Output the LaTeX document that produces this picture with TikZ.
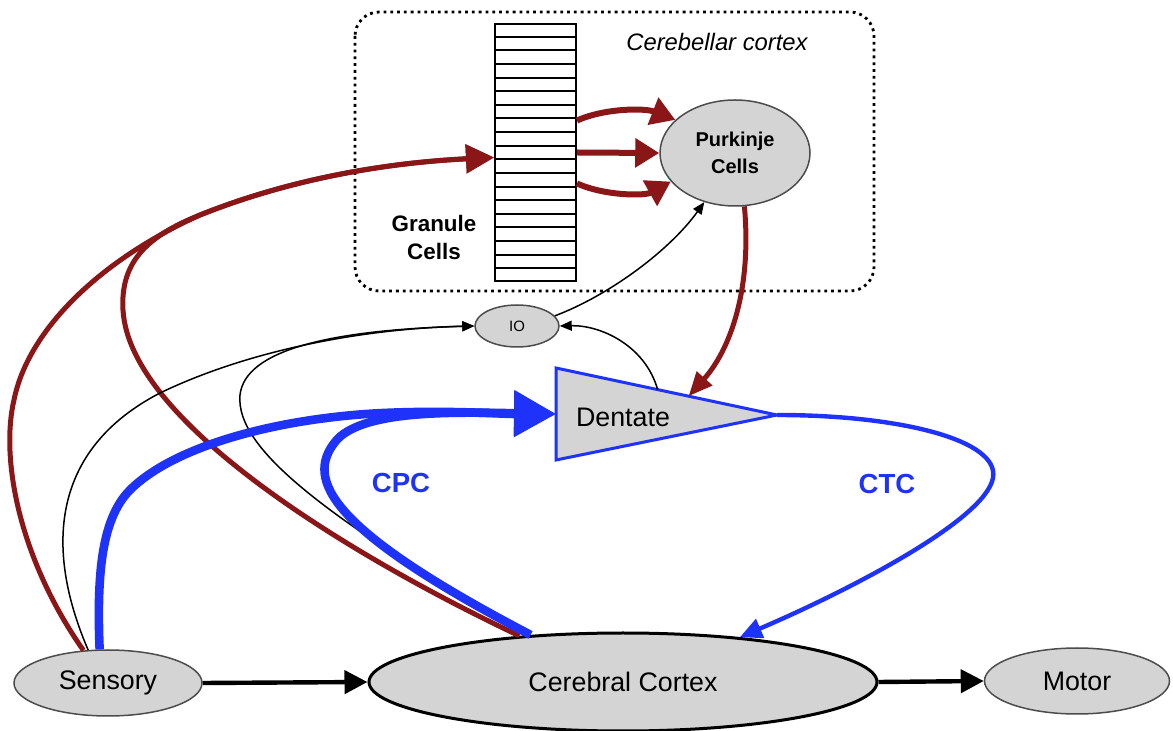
\documentclass[tikz,border=0pt]{standalone}
\usepackage{fontspec}
\setmainfont{Liberation Sans}
\usepackage{tikz}
\usetikzlibrary{arrows.meta,shapes.geometric,calc}
\definecolor{tractred}{RGB}{139,22,24}
\definecolor{tractblue}{RGB}{30,50,250}
\definecolor{cellgray}{RGB}{212,212,212}

\tikzset{
  cell/.style={ellipse, draw=black!70, line width=0.75pt, fill=cellgray, inner sep=0pt, font=\fontsize{13.4}{16}\selectfont},
  redtract/.style={draw=tractred, line width=2.5pt, -{Triangle[length=14pt,width=14pt]}},
  redfan/.style={draw=tractred, line width=3pt, -{Triangle[length=12pt,width=14pt]}},
  bluetract/.style={draw=tractblue, line width=4.3pt, -{Triangle[length=21pt,width=22pt]}},
  thintract/.style={draw=black, line width=0.75pt, -{Triangle[length=6pt,width=5pt]}},
  mainflow/.style={draw=black, line width=2.2pt, -{Triangle[length=11.5pt,width=11.5pt]}},
  tractlabel/.style={text=tractblue, font=\bfseries\fontsize{13.8}{16}\selectfont}
}

\begin{document}
\begin{tikzpicture}[x=0.5pt,y=-0.5pt]
\useasboundingbox (0,0) rectangle (1173,731);
% cerebellar cortex
\draw [dash pattern=on 1.4pt off 2pt, line width=1.4pt, rounded corners=12pt] (355,12) rectangle (874,291);
\node (ctxlabel) [font=\itshape\fontsize{11.9}{14}\selectfont] at (717,42) {Cerebellar cortex};
\node (gc) [draw, line width=1pt, minimum width=40.5pt, minimum height=128.5pt, inner sep=0pt] at (535.5,152.5) {};
\foreach \i in {1,...,18}
  \draw [line width=1pt] ($(gc.north west)!\i/19!(gc.south west)$) -- ($(gc.north east)!\i/19!(gc.south east)$);
\node (gclabel) [font=\bfseries\fontsize{11.2}{14}\selectfont, align=center] at (434,237) {Granule\\Cells};
\node (pk) [cell, minimum width=75pt, minimum height=53pt, font=\bfseries\fontsize{10}{13.5}\selectfont, align=center] at (735,153) {Purkinje\\Cells};
\node (io) [cell, minimum width=42pt, minimum height=21pt, font=\fontsize{7.5}{8}\selectfont] at (517,326) {IO};
% dentate
\draw [fill=cellgray, draw=tractblue, line width=1.5pt] (556,368) coordinate (dnNW) -- (777,415) coordinate (dnE) -- (556,460) coordinate (dnSW) -- cycle;
\coordinate (dnW) at ($(dnNW)!0.5!(dnSW)$);
\node (dn) [font=\fontsize{13.4}{16}\selectfont] at (623,417) {Dentate};
% bottom row
\node (sens) [cell, minimum width=94pt, minimum height=33pt] at (108,683) {Sensory};
\node (cc) [cell, draw=black, line width=1.5pt, minimum width=254pt, minimum height=49pt] at (623,682) {Cerebral Cortex};
\node (mot) [cell, minimum width=92.5pt, minimum height=33pt] at (1077,681) {Motor};
\draw [mainflow] (sens.east) -- (cc.west);
\draw [mainflow] (cc.east) -- (mot.west);

% mossy fibres
\draw [redtract] (sens.127) .. controls (20,560) and (0,460) .. (14,400) .. controls (28,330) and (100,260) .. (200,215) .. controls (300,175) and (400,162) .. ($(gc.west)+(0,5)$);
\draw [redtract] (cc.156) .. controls (380,570) and (130,430) .. (123,310) .. controls (120,260) and (150,235) .. (200,215) .. controls (300,175) and (400,162) .. ($(gc.west)+(0,5)$);
\draw [redfan] ($(gc.east)+(0,-32)$) .. controls (605,108) and (645,108) .. (pk.151);
\draw [redfan] (gc.east) -- (pk.west);
\draw [redfan] ($(gc.east)+(0,31)$) .. controls (605,196) and (645,196) .. (pk.204);
\draw [draw=tractred, line width=2.5pt, -{Triangle[length=12pt,width=10pt]}] (pk.-80) .. controls (752,290) and (730,350) .. ($(dnNW)!0.6!(dnE)$);

% climbing fibres
\draw [thintract] (sens.121) .. controls (45,550) and (50,450) .. (160,393) .. controls (260,345) and (380,328) .. (io.west);
\draw [thintract] (cc.154) .. controls (330,520) and (235,450) .. (240,395) .. controls (245,350) and (330,330) .. (io.west);
\draw [thintract] ($(dnNW)!0.46!(dnE)$) .. controls (645,345) and (600,325) .. (io.east);
\draw [thintract] (io.15) .. controls (610,295) and (670,250) .. (pk.-122);

% CPC and CTC
\draw [bluetract] (sens.104) .. controls (97,580) and (100,520) .. (130,490) .. controls (175,445) and (280,418) .. (383,413) .. controls (450,410) and (500,414) .. (dnW);
\draw [bluetract] (cc.153) .. controls (330,530) and (305,480) .. (335,442) .. controls (360,410) and (450,412) .. (dnW);
\draw [draw=tractblue, line width=2.2pt, -{Triangle[length=11pt,width=10pt]}] (dnE) .. controls (900,415) and (1000,440) .. (993,478) .. controls (985,520) and (850,590) .. (cc.21);
\node (cpc) [tractlabel] at (401,483) {CPC};
\node (ctc) [tractlabel] at (887,484) {CTC};
\end{tikzpicture}
\end{document}
